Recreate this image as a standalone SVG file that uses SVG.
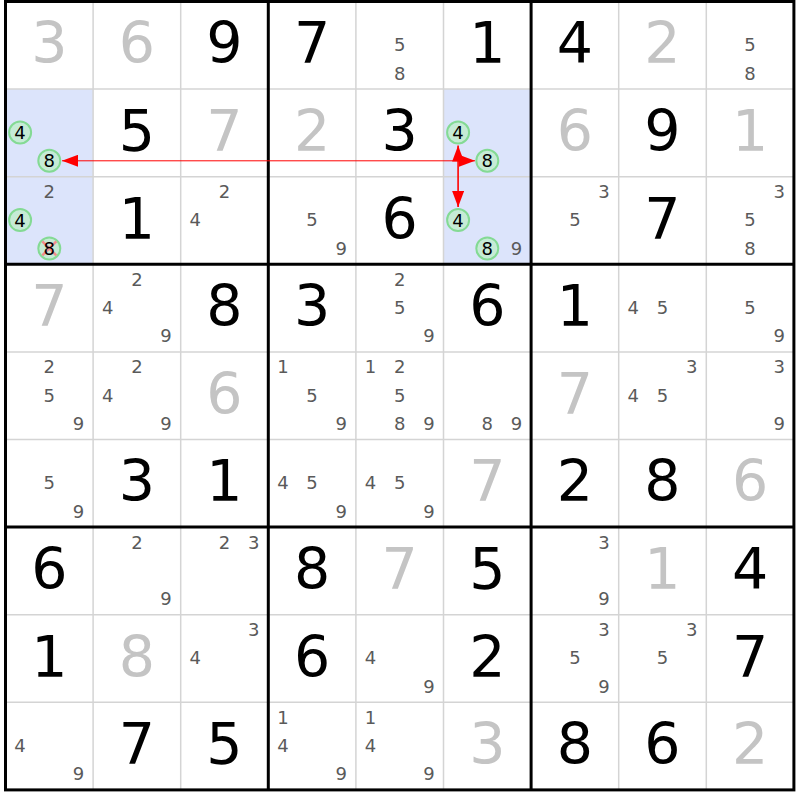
<svg xmlns="http://www.w3.org/2000/svg" width="800" height="800" viewBox="0 0 800 800">
<style>
text{font-family:"DejaVu Sans","Verdana",sans-serif;text-anchor:middle}
.g{font-size:57px;fill:#000}
.s{font-size:57px;fill:#c4c4c4}
.c{font-size:18px;fill:#5a5a5a}
.k{font-size:18px;fill:#000}
.hl{fill:#dce4fb}
.ring{fill:#c6ebd6;stroke:#84da94;stroke-width:2}
.thin{stroke:#d4d4d4;stroke-width:1.5}
.thick{stroke:#000;stroke-width:3}
.link{stroke:#ff0000;fill:none}
.x{stroke:#f28c8c;stroke-width:2.5}
</style>
<defs>
<marker id="ah" markerUnits="userSpaceOnUse" markerWidth="16" markerHeight="12" refX="16" refY="6" orient="auto-start-reverse">
<path d="M0,0 L16,6 L0,12 z" fill="#ff0000"/>
</marker>
</defs>
<rect x="0" y="0" width="800" height="800" fill="#fff"/>
<g id="highlights">
<rect class="hl" x="5.5" y="89.1" width="87.6" height="175.2"/>
<rect class="hl" x="443.5" y="89.1" width="87.6" height="175.2"/>
</g>
<g id="grid">
<g class="thin">
<line x1="93.1" y1="1.5" x2="93.1" y2="789.9"/>
<line x1="180.7" y1="1.5" x2="180.7" y2="789.9"/>
<line x1="355.9" y1="1.5" x2="355.9" y2="789.9"/>
<line x1="443.5" y1="1.5" x2="443.5" y2="789.9"/>
<line x1="618.7" y1="1.5" x2="618.7" y2="789.9"/>
<line x1="706.3" y1="1.5" x2="706.3" y2="789.9"/>
<line x1="5.5" y1="89.1" x2="793.9" y2="89.1"/>
<line x1="5.5" y1="176.7" x2="793.9" y2="176.7"/>
<line x1="5.5" y1="351.9" x2="793.9" y2="351.9"/>
<line x1="5.5" y1="439.5" x2="793.9" y2="439.5"/>
<line x1="5.5" y1="614.7" x2="793.9" y2="614.7"/>
<line x1="5.5" y1="702.3" x2="793.9" y2="702.3"/>
</g>
<g class="thick">
<line x1="268.3" y1="1.5" x2="268.3" y2="789.9"/>
<line x1="531.1" y1="1.5" x2="531.1" y2="789.9"/>
<line x1="5.5" y1="264.3" x2="793.9" y2="264.3"/>
<line x1="5.5" y1="527.1" x2="793.9" y2="527.1"/>
<rect x="5.5" y="1.5" width="788.4" height="788.4" fill="none"/>
</g>
</g>
<!-- Row 1 -->
<g id="r1c1"><text class="s" x="49.3" y="63.3">3</text></g>
<g id="r1c2"><text class="s" x="136.9" y="63.3">6</text></g>
<g id="r1c3"><text class="g" x="224.5" y="63.3">9</text></g>
<g id="r1c4"><text class="g" x="312.1" y="63.3">7</text></g>
<g id="r1c5"><text class="c" x="399.7" y="51.2">5</text><text class="c" x="399.7" y="79.5">8</text></g>
<g id="r1c6"><text class="g" x="487.3" y="63.3">1</text></g>
<g id="r1c7"><text class="g" x="574.9" y="63.3">4</text></g>
<g id="r1c8"><text class="s" x="662.5" y="63.3">2</text></g>
<g id="r1c9"><text class="c" x="750.1" y="51.2">5</text><text class="c" x="750.1" y="79.5">8</text></g>
<!-- Row 2 -->
<g id="r2c1"><circle class="ring" cx="20.1" cy="132.5" r="11"/><text class="k" x="20.1" y="139">4</text><circle class="ring" cx="49.3" cy="160.8" r="11"/><text class="k" x="49.3" y="167.3">8</text></g>
<g id="r2c2"><text class="g" x="136.9" y="150.9">5</text></g>
<g id="r2c3"><text class="s" x="224.5" y="150.9">7</text></g>
<g id="r2c4"><text class="s" x="312.1" y="150.9">2</text></g>
<g id="r2c5"><text class="g" x="399.7" y="150.9">3</text></g>
<g id="r2c6"><circle class="ring" cx="458.1" cy="132.5" r="11"/><text class="k" x="458.1" y="139">4</text><circle class="ring" cx="487.3" cy="160.8" r="11"/><text class="k" x="487.3" y="167.3">8</text></g>
<g id="r2c7"><text class="s" x="574.9" y="150.9">6</text></g>
<g id="r2c8"><text class="g" x="662.5" y="150.9">9</text></g>
<g id="r2c9"><text class="s" x="750.1" y="150.9">1</text></g>
<!-- Row 3 -->
<g id="r3c1"><text class="c" x="49.3" y="198.1">2</text><circle class="ring" cx="20.1" cy="220.1" r="11"/><text class="k" x="20.1" y="226.6">4</text><circle class="ring" cx="49.3" cy="248.4" r="11"/><line class="x" x1="42.3" y1="241.4" x2="56.3" y2="255.4"/><line class="x" x1="56.3" y1="241.4" x2="42.3" y2="255.4"/><text class="k" x="49.3" y="254.9">8</text></g>
<g id="r3c2"><text class="g" x="136.9" y="238.5">1</text></g>
<g id="r3c3"><text class="c" x="224.5" y="198.1">2</text><text class="c" x="195.3" y="226.4">4</text></g>
<g id="r3c4"><text class="c" x="312.1" y="226.4">5</text><text class="c" x="341.3" y="254.7">9</text></g>
<g id="r3c5"><text class="g" x="399.7" y="238.5">6</text></g>
<g id="r3c6"><circle class="ring" cx="458.1" cy="220.1" r="11"/><text class="k" x="458.1" y="226.6">4</text><circle class="ring" cx="487.3" cy="248.4" r="11"/><text class="k" x="487.3" y="254.9">8</text><text class="c" x="516.5" y="254.7">9</text></g>
<g id="r3c7"><text class="c" x="604.1" y="198.1">3</text><text class="c" x="574.9" y="226.4">5</text></g>
<g id="r3c8"><text class="g" x="662.5" y="238.5">7</text></g>
<g id="r3c9"><text class="c" x="779.3" y="198.1">3</text><text class="c" x="750.1" y="226.4">5</text><text class="c" x="750.1" y="254.7">8</text></g>
<!-- Row 4 -->
<g id="r4c1"><text class="s" x="49.3" y="326.1">7</text></g>
<g id="r4c2"><text class="c" x="136.9" y="285.7">2</text><text class="c" x="107.7" y="314">4</text><text class="c" x="166.1" y="342.3">9</text></g>
<g id="r4c3"><text class="g" x="224.5" y="326.1">8</text></g>
<g id="r4c4"><text class="g" x="312.1" y="326.1">3</text></g>
<g id="r4c5"><text class="c" x="399.7" y="285.7">2</text><text class="c" x="399.7" y="314">5</text><text class="c" x="428.9" y="342.3">9</text></g>
<g id="r4c6"><text class="g" x="487.3" y="326.1">6</text></g>
<g id="r4c7"><text class="g" x="574.9" y="326.1">1</text></g>
<g id="r4c8"><text class="c" x="633.3" y="314">4</text><text class="c" x="662.5" y="314">5</text></g>
<g id="r4c9"><text class="c" x="750.1" y="314">5</text><text class="c" x="779.3" y="342.3">9</text></g>
<!-- Row 5 -->
<g id="r5c1"><text class="c" x="49.3" y="373.3">2</text><text class="c" x="49.3" y="401.6">5</text><text class="c" x="78.5" y="429.9">9</text></g>
<g id="r5c2"><text class="c" x="136.9" y="373.3">2</text><text class="c" x="107.7" y="401.6">4</text><text class="c" x="166.1" y="429.9">9</text></g>
<g id="r5c3"><text class="s" x="224.5" y="413.7">6</text></g>
<g id="r5c4"><text class="c" x="282.9" y="373.3">1</text><text class="c" x="312.1" y="401.6">5</text><text class="c" x="341.3" y="429.9">9</text></g>
<g id="r5c5"><text class="c" x="370.5" y="373.3">1</text><text class="c" x="399.7" y="373.3">2</text><text class="c" x="399.7" y="401.6">5</text><text class="c" x="399.7" y="429.9">8</text><text class="c" x="428.9" y="429.9">9</text></g>
<g id="r5c6"><text class="c" x="487.3" y="429.9">8</text><text class="c" x="516.5" y="429.9">9</text></g>
<g id="r5c7"><text class="s" x="574.9" y="413.7">7</text></g>
<g id="r5c8"><text class="c" x="691.7" y="373.3">3</text><text class="c" x="633.3" y="401.6">4</text><text class="c" x="662.5" y="401.6">5</text></g>
<g id="r5c9"><text class="c" x="779.3" y="373.3">3</text><text class="c" x="779.3" y="429.9">9</text></g>
<!-- Row 6 -->
<g id="r6c1"><text class="c" x="49.3" y="489.2">5</text><text class="c" x="78.5" y="517.5">9</text></g>
<g id="r6c2"><text class="g" x="136.9" y="501.3">3</text></g>
<g id="r6c3"><text class="g" x="224.5" y="501.3">1</text></g>
<g id="r6c4"><text class="c" x="282.9" y="489.2">4</text><text class="c" x="312.1" y="489.2">5</text><text class="c" x="341.3" y="517.5">9</text></g>
<g id="r6c5"><text class="c" x="370.5" y="489.2">4</text><text class="c" x="399.7" y="489.2">5</text><text class="c" x="428.9" y="517.5">9</text></g>
<g id="r6c6"><text class="s" x="487.3" y="501.3">7</text></g>
<g id="r6c7"><text class="g" x="574.9" y="501.3">2</text></g>
<g id="r6c8"><text class="g" x="662.5" y="501.3">8</text></g>
<g id="r6c9"><text class="s" x="750.1" y="501.3">6</text></g>
<!-- Row 7 -->
<g id="r7c1"><text class="g" x="49.3" y="588.9">6</text></g>
<g id="r7c2"><text class="c" x="136.9" y="548.5">2</text><text class="c" x="166.1" y="605.1">9</text></g>
<g id="r7c3"><text class="c" x="224.5" y="548.5">2</text><text class="c" x="253.7" y="548.5">3</text></g>
<g id="r7c4"><text class="g" x="312.1" y="588.9">8</text></g>
<g id="r7c5"><text class="s" x="399.7" y="588.9">7</text></g>
<g id="r7c6"><text class="g" x="487.3" y="588.9">5</text></g>
<g id="r7c7"><text class="c" x="604.1" y="548.5">3</text><text class="c" x="604.1" y="605.1">9</text></g>
<g id="r7c8"><text class="s" x="662.5" y="588.9">1</text></g>
<g id="r7c9"><text class="g" x="750.1" y="588.9">4</text></g>
<!-- Row 8 -->
<g id="r8c1"><text class="g" x="49.3" y="676.5">1</text></g>
<g id="r8c2"><text class="s" x="136.9" y="676.5">8</text></g>
<g id="r8c3"><text class="c" x="253.7" y="636.1">3</text><text class="c" x="195.3" y="664.4">4</text></g>
<g id="r8c4"><text class="g" x="312.1" y="676.5">6</text></g>
<g id="r8c5"><text class="c" x="370.5" y="664.4">4</text><text class="c" x="428.9" y="692.7">9</text></g>
<g id="r8c6"><text class="g" x="487.3" y="676.5">2</text></g>
<g id="r8c7"><text class="c" x="604.1" y="636.1">3</text><text class="c" x="574.9" y="664.4">5</text><text class="c" x="604.1" y="692.7">9</text></g>
<g id="r8c8"><text class="c" x="691.7" y="636.1">3</text><text class="c" x="662.5" y="664.4">5</text></g>
<g id="r8c9"><text class="g" x="750.1" y="676.5">7</text></g>
<!-- Row 9 -->
<g id="r9c1"><text class="c" x="20.1" y="752">4</text><text class="c" x="78.5" y="780.3">9</text></g>
<g id="r9c2"><text class="g" x="136.9" y="764.1">7</text></g>
<g id="r9c3"><text class="g" x="224.5" y="764.1">5</text></g>
<g id="r9c4"><text class="c" x="282.9" y="723.7">1</text><text class="c" x="282.9" y="752">4</text><text class="c" x="341.3" y="780.3">9</text></g>
<g id="r9c5"><text class="c" x="370.5" y="723.7">1</text><text class="c" x="370.5" y="752">4</text><text class="c" x="428.9" y="780.3">9</text></g>
<g id="r9c6"><text class="s" x="487.3" y="764.1">3</text></g>
<g id="r9c7"><text class="g" x="574.9" y="764.1">8</text></g>
<g id="r9c8"><text class="g" x="662.5" y="764.1">6</text></g>
<g id="r9c9"><text class="s" x="750.1" y="764.1">2</text></g>
<g id="connectors">
<line class="link" stroke-width="1" x1="62" y1="160.8" x2="475" y2="160.8" marker-start="url(#ah)" marker-end="url(#ah)"/>
<line class="link" stroke-width="1.6" x1="458.1" y1="145.5" x2="458.1" y2="207" marker-start="url(#ah)" marker-end="url(#ah)"/>
</g>
</svg>
